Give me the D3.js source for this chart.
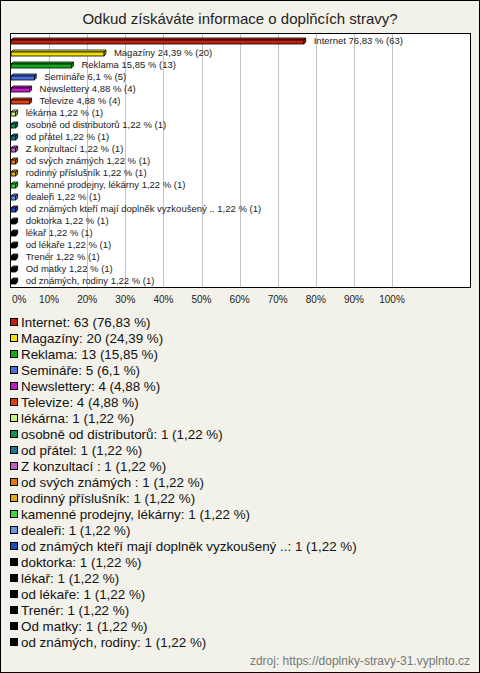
<!DOCTYPE html>
<html>
<head>
<meta charset="utf-8">
<script src="https://cdn.jsdelivr.net/npm/d3@7"></script>
<style>
  body { margin: 0; padding: 0; background: #fff; }
  svg { display: block; font-family: Arial, "Liberation Sans", sans-serif; }
</style>
</head>
<body>
<svg id="chart"></svg>
<script>
var titleText = "Odkud získáváte informace o doplňcích stravy?";
var sourceText = "zdroj: https://doplnky-stravy-31.vyplnto.cz";

var categories = ["Internet", "Magazíny", "Reklama", "Semináře", "Newslettery", "Televize",
  "lékárna", "osobně od distributorů", "od přátel", "Z konzultací ", "od svých známých ",
  "rodinný příslušník", "kamenné prodejny, lékárny", "dealeři",
  "od známých kteří mají doplněk vyzkoušený ..", "doktorka", "lékař", "od lékaře",
  "Trenér", "Od matky", "od známých, rodiny"];
var counts = [63, 20, 13, 5, 4, 4, 1, 1, 1, 1, 1, 1, 1, 1, 1, 1, 1, 1, 1, 1, 1];
var percents = [76.83, 24.39, 15.85, 6.1, 4.88, 4.88, 1.22, 1.22, 1.22, 1.22, 1.22, 1.22,
  1.22, 1.22, 1.22, 1.22, 1.22, 1.22, 1.22, 1.22, 1.22];
var colors = ["#c0200e", "#f4e000", "#17a81a", "#4a70e0", "#c21cc4", "#e0400c",
  "#c6f27c", "#109354", "#1a7a8c", "#c060c4", "#e27a10", "#e2aa12", "#3ed63e",
  "#6a94e2", "#1e4cbe", "#000000", "#000000", "#000000", "#000000", "#000000", "#000000"];
var tickValues = [0, 10, 20, 30, 40, 50, 60, 70, 80, 90, 100];

var W = 480, H = 673;
var svg = d3.select("#chart").attr("width", W).attr("height", H);

// background + frame
svg.append("rect").attr("x", 0.5).attr("y", 0.5).attr("width", W - 1).attr("height", H - 1)
  .attr("fill", "#f3f2ea").attr("stroke", "#000");

svg.append("text").attr("x", 240).attr("y", 24).attr("text-anchor", "middle")
  .attr("font-size", 15).attr("fill", "#222").text(titleText);

function fmt(v){ return String(v).replace(".", ","); }

// plot area
var plot = { left: 10, top: 33, right: 471, bottom: 288 };
svg.append("rect").attr("x", plot.left + 0.5).attr("y", plot.top + 0.5)
  .attr("width", plot.right - plot.left - 1).attr("height", plot.bottom - plot.top - 1)
  .attr("fill", "#fff").attr("stroke", "#000");

var x = d3.scaleLinear().domain([0, 100]).range([11, 392]);
var y = d3.scaleBand().domain(categories).range([35, 287]);

// grid
svg.append("g").selectAll("line").data(tickValues.slice(1)).enter().append("line")
  .attr("x1", function(d){ return Math.round(x(d)) + 0.5; })
  .attr("x2", function(d){ return Math.round(x(d)) + 0.5; })
  .attr("y1", plot.top + 1).attr("y2", plot.bottom - 1)
  .attr("stroke", "#c4c4c4").attr("stroke-width", 1);

// x axis labels
svg.append("g").selectAll("text").data(tickValues).enter().append("text")
  .attr("x", function(d){ return d == 0 ? 12 : x(d); })
  .attr("y", 303)
  .attr("text-anchor", function(d){ return d == 0 ? "start" : "middle"; })
  .attr("font-size", 10).attr("fill", "#222")
  .text(function(d){ return d + "%"; });

// 3d bars
var depth = 2;
var bars = svg.append("g").selectAll("g").data(categories).enter().append("g");

bars.each(function(d, i){
  var g = d3.select(this);
  var cy = y(d) + y.bandwidth() / 2;
  var x0 = x(0), x1 = x(percents[i]);
  var top = cy - 1, h = 4;
  var c = d3.color(colors[i]);
  var light = colors[i] == "#000000" ? "#333" : c.brighter(0.4).toString();
  var dark = colors[i] == "#000000" ? "#000" : c.darker(0.6).toString();
  // top face
  g.append("path")
    .attr("d", "M" + x0 + "," + top + "L" + (x0 + depth) + "," + (top - depth) +
      "L" + (x1 + depth) + "," + (top - depth) + "L" + x1 + "," + top + "Z")
    .attr("fill", light).attr("stroke", "#000").attr("stroke-width", 0.8);
  // side face
  g.append("path")
    .attr("d", "M" + x1 + "," + top + "L" + (x1 + depth) + "," + (top - depth) +
      "L" + (x1 + depth) + "," + (top - depth + h) + "L" + x1 + "," + (top + h) + "Z")
    .attr("fill", dark).attr("stroke", "#000").attr("stroke-width", 0.8);
  // front face
  g.append("rect").attr("x", x0).attr("y", top).attr("width", x1 - x0).attr("height", h)
    .attr("fill", colors[i]).attr("stroke", "#000").attr("stroke-width", 0.8);
  g.append("text").attr("x", x1 + 10).attr("y", cy + 3)
    .attr("font-size", 9.5).attr("fill", "#222")
    .text(d + " " + fmt(percents[i]) + " % (" + counts[i] + ")");
});

// legend
var legend = svg.append("g").selectAll("g").data(categories).enter().append("g")
  .attr("transform", function(d, i){ return "translate(10," + (322 + i * 16) + ")"; });
legend.append("rect").attr("x", 0.5).attr("y", -3.5).attr("width", 7).attr("height", 7)
  .attr("fill", function(d, i){ return colors[i]; }).attr("stroke", "#000");
legend.append("text").attr("x", 11).attr("y", 4.8).attr("font-size", 13.4).attr("fill", "#111")
  .text(function(d, i){ return d + ": " + counts[i] + " (" + fmt(percents[i]) + " %)"; });

svg.append("text").attr("x", 470).attr("y", 665).attr("text-anchor", "end")
  .attr("font-size", 12).attr("fill", "#777").text(sourceText);
</script>
</body>
</html>
